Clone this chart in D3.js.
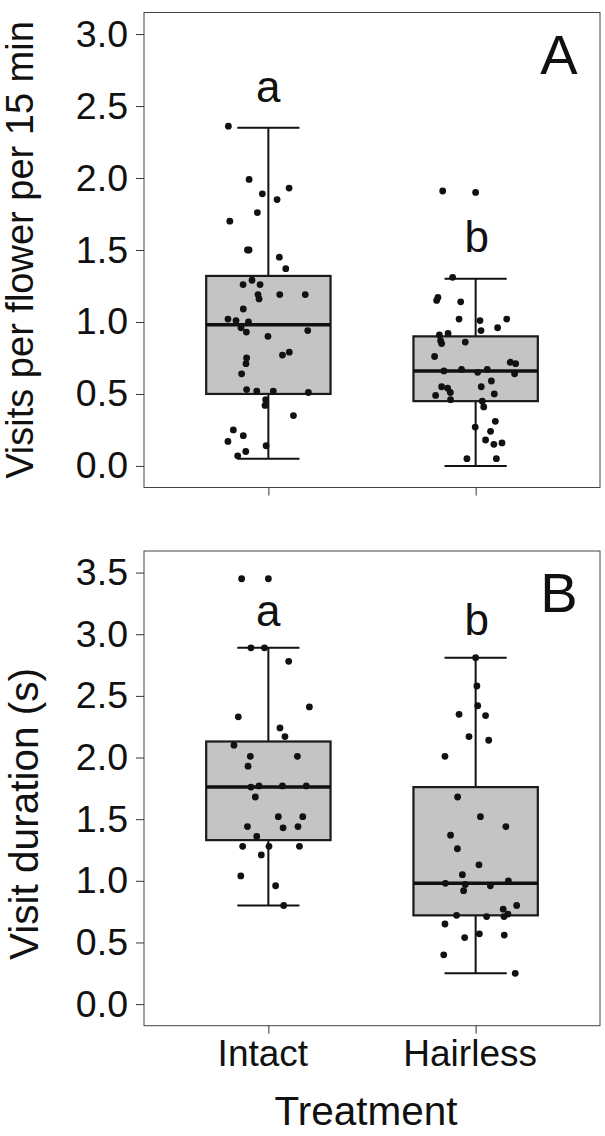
<!DOCTYPE html>
<html><head><meta charset="utf-8">
<script src="https://cdn.jsdelivr.net/npm/d3@7"></script>
<style>html,body{margin:0;padding:0;background:#fff}svg{display:block}</style>
</head><body>
<script>
// ---------- data ----------
const categories = ["Intact", "Hairless"];

// Panel A: visits per flower per 15 min
const visitsIntact = [2.36,1.99,1.89,1.93,1.85,1.76,1.70,1.50,1.50,1.45,1.37,1.29,1.26,1.26,1.19,1.16,1.19,1.19,1.09,1.02,1.01,1.00,0.96,0.93,0.94,0.90,0.77,0.79,0.75,0.71,0.64,0.53,0.52,0.52,0.51,0.46,0.42,0.35,0.25,0.21,0.17,0.14,0.10,0.07];
const visitsIntactJitter = [-0.193,-0.093,-0.029,0.100,0.042,-0.053,-0.186,-0.101,-0.093,0.053,0.084,-0.079,-0.122,-0.040,-0.050,-0.045,0.055,0.178,-0.121,-0.195,-0.156,-0.096,-0.132,-0.106,0.190,-0.002,0.068,0.101,-0.105,-0.108,-0.129,-0.105,-0.056,0.024,0.193,-0.013,-0.016,0.121,-0.169,-0.121,-0.195,-0.011,-0.109,-0.148];
const visitsHairless = [1.91,1.31,1.15,1.17,1.14,1.02,1.01,1.02,0.96,0.94,0.91,0.92,0.87,0.85,0.86,0.76,0.72,0.71,0.66,0.67,0.65,0.67,0.64,0.59,0.55,0.54,0.55,0.51,0.49,0.46,0.50,0.45,0.41,0.31,0.27,0.24,0.18,0.15,0.16,0.05,0.05];
const visitsHairlessJitter = [-0.159,-0.111,-0.188,-0.182,-0.072,-0.080,0.021,0.150,0.106,0.026,-0.175,-0.133,-0.169,-0.164,-0.050,-0.198,0.167,0.193,-0.153,-0.068,0.010,0.056,0.188,0.076,-0.164,-0.135,0.027,-0.122,-0.193,-0.121,0.090,0.032,0.039,0.095,-0.002,0.072,0.048,0.088,0.127,-0.042,0.100];
// box stats: [lower whisker, Q1, median, Q3, upper whisker]
const visitsBoxIntact = [0.05, 0.50, 0.98, 1.32, 2.35];
const visitsBoxHairless = [0.00, 0.45, 0.66, 0.90, 1.30];
const visitsOutliersIntact = [];
const visitsOutliersHairless = [1.90];
const visitsLetters = ["a", "b"];
const visitsTicks = [0.0, 0.5, 1.0, 1.5, 2.0, 2.5, 3.0];

// Panel B: visit duration (s)
const durationIntact = [3.45,2.89,2.89,2.78,2.41,2.33,2.24,2.17,2.10,2.01,2.01,1.93,1.76,1.77,1.77,1.77,1.68,1.52,1.52,1.44,1.43,1.44,1.36,1.28,1.28,1.28,1.21,1.04,0.96,0.80];
const durationIntactJitter = [-0.129,-0.084,-0.019,0.098,0.198,-0.145,0.056,0.080,-0.166,-0.087,0.140,-0.098,-0.084,-0.045,0.068,0.183,-0.063,0.048,0.166,-0.101,0.071,0.143,-0.056,-0.124,0.003,0.150,-0.034,-0.133,0.035,0.074];
const durationHairless = [2.81,2.58,2.42,2.35,2.34,2.17,2.14,2.01,1.68,1.52,1.44,1.37,1.26,1.13,1.05,0.98,0.97,0.92,0.96,1.00,0.80,0.77,0.73,0.71,0.72,0.71,0.65,0.54,0.57,0.56,0.40,0.25];
const durationHairlessJitter = [0.000,0.006,0.010,-0.080,0.048,-0.032,0.063,-0.148,-0.087,0.023,0.146,-0.121,-0.088,0.016,-0.064,-0.146,-0.050,-0.058,0.071,0.158,0.198,0.133,0.156,0.137,-0.092,0.053,-0.148,-0.053,0.018,0.138,-0.154,0.191];
const durationBoxIntact = [0.80, 1.33, 1.76, 2.13, 2.89];
const durationBoxHairless = [0.25, 0.72, 0.98, 1.76, 2.81];
const durationOutliersIntact = [3.45];
const durationOutliersHairless = [];
const durationLetters = ["a", "b"];
const durationTicks = [0.0, 0.5, 1.0, 1.5, 2.0, 2.5, 3.0, 3.5];

// ---------- layout ----------
const W = 605, H = 1136;
const FONT = "'Liberation Sans', Arial, Helvetica, sans-serif";
const left = 144, right = 600;
const ink = "#111";

const svg = d3.select("body").append("svg").attr("width", W).attr("height", H)
  .style("font-family", FONT);

const x = d3.scalePoint().domain(categories).range([left, right]).padding(0.6);
const step = x.step();

function panel(cfg) {
  const y = d3.scaleLinear().domain(cfg.domain).range([cfg.bottom, cfg.top]);
  const g = svg.append("g");

  // frame
  g.append("rect").attr("x", left).attr("y", cfg.top)
    .attr("width", right - left).attr("height", cfg.bottom - cfg.top)
    .attr("fill", "none").attr("stroke", "#444").attr("stroke-width", 1);

  // y axis
  const ya = g.append("g").attr("transform", `translate(${left},0)`)
    .call(d3.axisLeft(y).tickValues(cfg.ticks).tickFormat(d3.format(".1f")).tickSize(8).tickPadding(8));
  ya.select(".domain").remove();
  ya.selectAll(".tick line").attr("stroke", "#333").attr("stroke-width", 1);
  ya.selectAll(".tick text").attr("font-size", 37.5).attr("fill", ink).attr("font-family", FONT);

  // x axis ticks
  const xa = g.append("g").attr("transform", `translate(0,${cfg.bottom})`)
    .call(d3.axisBottom(x).tickSize(8).tickPadding(6));
  xa.select(".domain").remove();
  xa.selectAll(".tick line").attr("stroke", "#333").attr("stroke-width", 1);
  if (cfg.showXLabels) {
    xa.selectAll(".tick text").attr("font-size", 37).attr("fill", ink)
      .attr("font-family", FONT).attr("dx", -6);
  } else {
    xa.selectAll(".tick text").remove();
  }

  // boxes
  cfg.boxes.forEach((b, i) => {
    const cx = x(categories[i]);
    const bw = 0.6 * step, cw = 0.3 * step;
    const bg = g.append("g");
    bg.append("line").attr("x1", cx).attr("x2", cx).attr("y1", y(b[3])).attr("y2", y(b[4]))
      .attr("stroke", ink).attr("stroke-width", 2);
    bg.append("line").attr("x1", cx).attr("x2", cx).attr("y1", y(b[1])).attr("y2", y(b[0]))
      .attr("stroke", ink).attr("stroke-width", 2);
    bg.append("line").attr("x1", cx - cw / 2).attr("x2", cx + cw / 2).attr("y1", y(b[4])).attr("y2", y(b[4]))
      .attr("stroke", ink).attr("stroke-width", 2);
    bg.append("line").attr("x1", cx - cw / 2).attr("x2", cx + cw / 2).attr("y1", y(b[0])).attr("y2", y(b[0]))
      .attr("stroke", ink).attr("stroke-width", 2);
    bg.append("rect").attr("x", cx - bw / 2).attr("width", bw)
      .attr("y", y(b[3])).attr("height", y(b[1]) - y(b[3]))
      .attr("fill", "#c4c4c4").attr("stroke", "#1a1a1a").attr("stroke-width", 2.2);
    bg.append("line").attr("x1", cx - bw / 2).attr("x2", cx + bw / 2).attr("y1", y(b[2])).attr("y2", y(b[2]))
      .attr("stroke", ink).attr("stroke-width", 3.5);
  });

  // outliers (at category center)
  cfg.outliers.forEach((arr, i) => {
    g.selectAll(null).data(arr).enter().append("circle")
      .attr("cx", x(categories[i])).attr("cy", d => y(d)).attr("r", 3.4).attr("fill", ink);
  });

  // jittered points
  cfg.points.forEach((p, i) => {
    const vals = p[0], jit = p[1];
    g.selectAll(null).data(vals).enter().append("circle")
      .attr("cx", (d, k) => x(categories[i]) + jit[k] * step)
      .attr("cy", d => y(d)).attr("r", 3.4).attr("fill", ink);
  });

  // significance letters
  cfg.letters.forEach((t, i) => {
    g.append("text").attr("x", x(categories[i]) + (i === 0 ? 0 : 1)).attr("y", cfg.letterY[i])
      .attr("text-anchor", "middle").attr("font-size", 44).attr("fill", ink).text(t);
  });

  // panel tag
  g.append("text").attr("x", 559).attr("y", cfg.top + cfg.tagDy).attr("text-anchor", "middle")
    .attr("font-size", 56).attr("fill", ink).text(cfg.tag);

  // y title
  g.append("text").attr("transform", `translate(${cfg.titleX},${cfg.titleY}) rotate(-90)`)
    .attr("text-anchor", "middle").attr("font-size", cfg.titleSize).attr("fill", ink).text(cfg.title);
}

panel({
  top: 12.5, bottom: 487.5, domain: [-0.15, 3.15], ticks: visitsTicks, showXLabels: false,
  boxes: [visitsBoxIntact, visitsBoxHairless],
  outliers: [visitsOutliersIntact, visitsOutliersHairless],
  points: [[visitsIntact, visitsIntactJitter], [visitsHairless, visitsHairlessJitter]],
  letters: visitsLetters, letterY: [101.5, 251.5],
  tag: "A", tagDy: 61,
  title: "Visits per flower per 15 min", titleX: 33, titleY: 250, titleSize: 38
});

panel({
  top: 551, bottom: 1025.7, domain: [-0.175, 3.675], ticks: durationTicks, showXLabels: true,
  boxes: [durationBoxIntact, durationBoxHairless],
  outliers: [durationOutliersIntact, durationOutliersHairless],
  points: [[durationIntact, durationIntactJitter], [durationHairless, durationHairlessJitter]],
  letters: durationLetters, letterY: [626, 635],
  tag: "B", tagDy: 61,
  title: "Visit duration (s)", titleX: 38, titleY: 814, titleSize: 40.5
});

// x axis title
svg.append("text").attr("x", (left + right) / 2 - 6).attr("y", 1125)
  .attr("text-anchor", "middle").attr("font-size", 40.5).attr("fill", ink).text("Treatment");
</script>
</body></html>
